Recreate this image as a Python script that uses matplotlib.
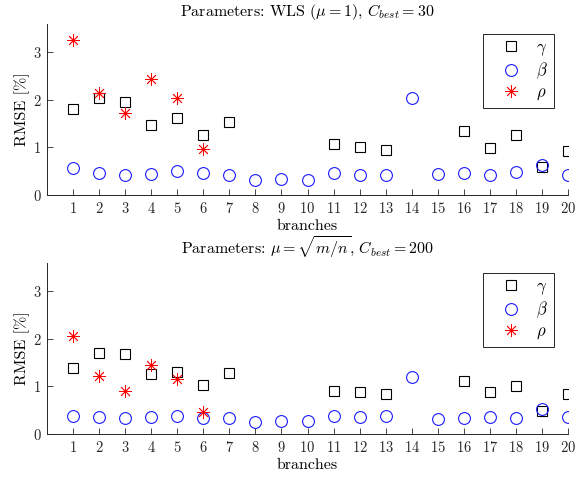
import matplotlib
matplotlib.use("Agg")
import matplotlib.pyplot as plt

plt.rcParams['font.family'] = 'serif'
plt.rcParams['font.serif'] = ['cmr10']
plt.rcParams['mathtext.fontset'] = 'cm'
plt.rcParams['axes.formatter.use_mathtext'] = True

branches = list(range(1, 21))
gamma_idx = [1, 2, 3, 4, 5, 6, 7, 11, 12, 13, 16, 17, 18, 19, 20]
rho_idx = [1, 2, 3, 4, 5, 6]

# panel 1: WLS (mu = 1), C_best = 30
gamma_1 = [1.81, 2.05, 1.95, 1.48, 1.62, 1.27, 1.53, 1.08, 1.01, 0.94, 1.34, 0.98, 1.27, 0.58, 0.93]
beta_1 = [0.56, 0.47, 0.42, 0.44, 0.50, 0.46, 0.41, 0.32, 0.33, 0.32,
          0.46, 0.43, 0.43, 2.05, 0.44, 0.46, 0.41, 0.49, 0.63, 0.41]
rho_1 = [3.27, 2.14, 1.72, 2.44, 2.05, 0.97]

# panel 2: mu = sqrt(m/n), C_best = 200
gamma_2 = [1.38, 1.71, 1.68, 1.27, 1.31, 1.04, 1.29, 0.90, 0.88, 0.85, 1.12, 0.89, 1.01, 0.48, 0.85]
beta_2 = [0.38, 0.36, 0.34, 0.36, 0.38, 0.34, 0.33, 0.26, 0.27, 0.27,
          0.37, 0.36, 0.37, 1.19, 0.32, 0.34, 0.35, 0.34, 0.53, 0.35]
rho_2 = [2.06, 1.22, 0.90, 1.45, 1.15, 0.47]

titles = [r'Parameters: WLS ($\mu=1$), $C_{best}=30$',
          r'Parameters: $\mu=\sqrt{m/n}$, $C_{best}=200$']

fig = plt.figure(figsize=(5.88, 4.79), dpi=100)
ax1 = fig.add_axes([0.080, 0.593, 0.886, 0.357])
ax2 = fig.add_axes([0.080, 0.094, 0.886, 0.357])

for ax, g, b, r, t in [(ax1, gamma_1, beta_1, rho_1, titles[0]),
                       (ax2, gamma_2, beta_2, rho_2, titles[1])]:
    ax.plot(gamma_idx, g, ls='none', marker='s', ms=7.5, mfc='none', mec='k', mew=0.8, label=r'$\gamma$')
    ax.plot(branches, b, ls='none', marker='o', ms=8.5, mfc='none', mec='#1a1aff', mew=0.8, label=r'$\beta$')
    ax.plot(rho_idx, r, ls='none', marker=(8, 2, 0), ms=9, mec='#ff0000', mew=0.6, label=r'$\rho$')
    ax.set_xlim(0, 20)
    ax.set_ylim(0, 3.6)
    ax.set_xticks(branches)
    ax.set_yticks([0, 1, 2, 3])
    ax.tick_params(direction='in', labelsize=10.5, length=4, width=0.6, colors='0.15', pad=4)
    for s in ['top', 'right']:
        ax.spines[s].set_visible(False)
    for s in ['left', 'bottom']:
        ax.spines[s].set_color('0.15')
        ax.spines[s].set_linewidth(0.7)
    ax.set_xlabel('branches', fontsize=11.5, labelpad=3)
    ax.set_ylabel('RMSE [%]', fontsize=11.5, labelpad=2)
    ax.set_title(t, fontsize=11.5, pad=6)
    leg = ax.legend(loc='upper right', bbox_to_anchor=(0.973, 0.941), fancybox=False,
                    edgecolor='0.15', framealpha=1, fontsize=12, handlelength=2.6,
                    handletextpad=0.25, borderpad=0.35, labelspacing=0.18, borderaxespad=0)
    leg.get_frame().set_linewidth(0.7)

fig.savefig('out.png', dpi=100)
